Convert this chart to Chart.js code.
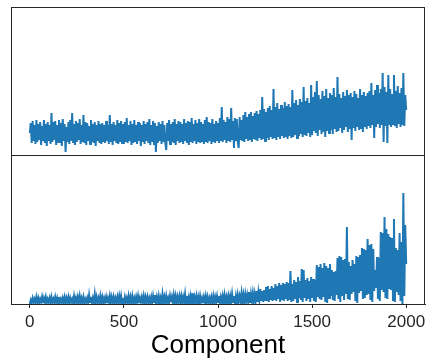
<!DOCTYPE html>
<html>
<head>
<meta charset="utf-8">
<script src="https://cdn.jsdelivr.net/npm/chart.js@4/dist/chart.umd.min.js"></script>
<style>
    body { margin: 0; background: #fff; }
    #wrap { position: relative; width: 433px; height: 364px; }
    #wrap canvas { position: absolute; left: 0; }
</style>
</head>
<body>
<div id="wrap">
    <canvas id="top-chart" width="433" height="160" style="top:0"></canvas>
    <canvas id="bottom-chart" width="433" height="209" style="top:155px"></canvas>
</div>
<script>
// values, one every 5 components
var step = 5;
var topValues = [
    22, 32, 12, 34, 14, 30, 11, 35, 13, 31, 15, 33, 10, 29, 14, 35, 12, 31, 9, 33,
    14, 30, 11, 42, 13, 33, 15, 34, 10, 30, 13, 35, 12, 32, 9, 36, 14, 31, 3, 28,
    13, 33, 11, 35, 14, 42, 12, 31, 10, 34, 13, 32, 15, 36, 11, 30, 13, 40, 12, 33,
    10, 32, 14, 29, 11, 35, 13, 31, 12, 33, 9, 30, 14, 34, 12, 31, 11, 32, 13, 30,
    12, 34, 14, 30, 11, 40, 13, 31, 10, 33, 14, 30, 12, 35, 11, 32, 13, 34, 12, 31,
    11, 33, 13, 37, 12, 30, 14, 34, 10, 31, 12, 35, 13, 30, 11, 33, 14, 32, 9, 30,
    13, 34, 11, 31, 14, 33, 12, 36, 10, 30, 13, 34, 11, 32, 3, 29, 12, 33, 14, 31,
    11, 34, 13, 30, 12, 5, 32, 14, 35, 11, 31, 13, 33, 12, 36, 10, 31, 14, 34, 12,
    33, 13, 31, 11, 36, 14, 32, 12, 34, 10, 33, 13, 37, 12, 31, 14, 35, 11, 32, 13,
    36, 12, 33, 14, 31, 11, 35, 13, 38, 12, 33, 14, 32, 11, 36, 13, 31, 12, 34, 14,
    32, 12, 37, 14, 48, 13, 35, 15, 33, 12, 38, 14, 36, 13, 47, 15, 34, 7, 37, 14,
    36, 13, 7, 38, 15, 35, 14, 40, 13, 43, 16, 38, 14, 41, 15, 43, 13, 39, 16, 42,
    15, 44, 14, 41, 17, 45, 15, 58, 16, 46, 14, 43, 17, 47, 15, 49, 18, 45, 16, 66,
    17, 48, 15, 52, 18, 46, 16, 50, 19, 47, 17, 53, 18, 49, 16, 51, 19, 48, 17, 65,
    18, 52, 20, 55, 17, 50, 19, 56, 21, 53, 18, 68, 20, 54, 19, 57, 22, 52, 18, 70,
    20, 58, 24, 63, 22, 74, 19, 60, 25, 56, 21, 64, 23, 59, 18, 66, 24, 57, 22, 62,
    25, 60, 21, 67, 26, 58, 23, 78, 24, 61, 27, 57, 22, 63, 25, 59, 28, 65, 23, 60,
    26, 62, 15, 58, 27, 64, 24, 61, 28, 57, 25, 66, 27, 60, 23, 63, 28, 59, 26, 62,
    29, 64, 27, 72, 30, 60, 17, 65, 28, 70, 31, 62, 27, 66, 30, 82, 13, 68, 29, 63,
    12, 80, 30, 66, 28, 61, 31, 80, 29, 64, 27, 69, 31, 62, 28, 67, 30, 82, 29, 60,
    45
];
var bottomValues = [
    0, 4, 1, 6, 2, 5, 1, 7, 2, 6, 1, 5, 2, 7, 1, 6, 2, 7, 1, 5,
    2, 6, 1, 7, 2, 5, 1, 7, 2, 6, 1, 7, 2, 5, 1, 6, 2, 7, 1, 6,
    2, 7, 1, 6, 2, 5, 1, 8, 2, 6, 1, 7, 2, 8, 1, 6, 2, 7, 1, 5,
    2, 6, 1, 9, 2, 7, 1, 6, 2, 10, 1, 7, 2, 6, 1, 8, 2, 7, 1, 6,
    2, 7, 1, 6, 2, 8, 1, 7, 2, 7, 1, 6, 2, 7, 1, 8, 2, 8, 1, 6,
    1, 7, 2, 6, 1, 8, 2, 7, 1, 8, 2, 6, 1, 7, 2, 8, 1, 6, 2, 7,
    2, 8, 1, 7, 2, 7, 1, 6, 2, 7, 1, 8, 2, 9, 1, 7, 2, 8, 1, 6,
    1, 10, 2, 7, 1, 8, 2, 6, 1, 8, 2, 7, 1, 9, 2, 8, 1, 7, 2, 8,
    2, 8, 1, 7, 2, 10, 1, 8, 2, 7, 1, 8, 2, 11, 1, 7, 2, 8, 1, 7,
    1, 8, 2, 6, 1, 7, 2, 8, 1, 7, 2, 6, 1, 7, 2, 8, 1, 7, 2, 8,
    2, 8, 1, 7, 2, 8, 1, 9, 2, 7, 1, 8, 2, 8, 1, 10, 2, 8, 1, 8,
    1, 9, 2, 8, 3, 11, 1, 9, 2, 10, 3, 9, 2, 12, 1, 10, 3, 11, 2, 10,
    3, 13, 2, 12, 4, 15, 3, 13, 2, 14, 4, 17, 3, 18, 2, 15, 4, 18, 3, 16,
    4, 20, 3, 18, 5, 21, 2, 19, 4, 21, 3, 20, 5, 22, 3, 21, 4, 33, 2, 20,
    3, 24, 5, 22, 2, 27, 6, 23, 4, 35, 2, 34, 6, 24, 3, 26, 5, 23, 2, 27,
    6, 25, 3, 24, 2, 39, 7, 37, 5, 40, 4, 36, 7, 41, 2, 38, 1, 36, 6, 40,
    8, 34, 4, 32, 3, 33, 9, 46, 5, 48, 2, 47, 8, 44, 4, 45, 10, 77, 5, 42,
    4, 38, 10, 44, 12, 40, 3, 48, 1, 47, 11, 49, 14, 56, 5, 55, 6, 54, 9, 65,
    10, 59, 4, 60, 2, 55, 13, 34, 16, 47, 5, 46, 3, 72, 14, 71, 12, 87, 6, 75,
    5, 70, 15, 67, 14, 66, 4, 85, 2, 56, 12, 54, 9, 71, 3, 62, 0, 111, 8, 79,
    40
];
var tickValues = [0, 500, 1000, 1500, 2000];
var xTitle = 'Component';

var blue = '#1f77b4';
var ink = '#262626';
var fontFamily = "'Liberation Sans', Arial, Helvetica, sans-serif";

function toPoints(values) {
    return values.map(function(v, i) { return { x: i * step, y: v }; });
}

// matplotlib-like box around the plot area
var boxPlugin = {
    id: 'box',
    afterDraw: function(chart) {
        var a = chart.chartArea;
        var ctx = chart.ctx;
        ctx.save();
        ctx.strokeStyle = ink;
        ctx.lineWidth = 1;
        ctx.strokeRect(a.left + 0.5, a.top + 0.5, a.right - a.left - 1, a.bottom - a.top);
        ctx.restore();
    }
};

function lineDataset(values) {
    return {
        data: toPoints(values),
        borderColor: blue,
        borderWidth: 2,
        pointRadius: 0,
        tension: 0,
        fill: false
    };
}

var topChart = new Chart(document.getElementById('top-chart'), {
    type: 'line',
    data: { datasets: [lineDataset(topValues)] },
    plugins: [boxPlugin],
    options: {
        responsive: false,
        devicePixelRatio: 1,
        animation: false,
        layout: { padding: { left: 11, right: 8, top: 7, bottom: 5 } },
        plugins: { legend: { display: false }, tooltip: { enabled: false } },
        scales: {
            x: { type: 'linear', min: -100, max: 2100, display: false },
            y: { min: 0, max: 148, display: false }
        }
    }
});

var bottomChart = new Chart(document.getElementById('bottom-chart'), {
    type: 'line',
    data: { datasets: [lineDataset(bottomValues)] },
    plugins: [boxPlugin],
    options: {
        responsive: false,
        devicePixelRatio: 1,
        animation: false,
        layout: { padding: { left: 11, right: 8, top: 0, bottom: 0 } },
        plugins: { legend: { display: false }, tooltip: { enabled: false } },
        scales: {
            x: {
                type: 'linear',
                min: -100,
                max: 2100,
                afterBuildTicks: function(scale) {
                    scale.ticks = tickValues.map(function(v) { return { value: v }; });
                },
                afterFit: function(scale) { scale.height = 60; },
                grid: { drawOnChartArea: false, drawTicks: true, tickLength: 4, color: ink, lineWidth: 1 },
                border: { display: true, color: ink, width: 1 },
                ticks: {
                    padding: 4,
                    maxRotation: 0,
                    color: ink,
                    font: { family: fontFamily, size: 17 },
                    callback: function(value) { return String(value); }
                },
                title: {
                    display: true,
                    text: xTitle,
                    color: '#000',
                    font: { family: fontFamily, size: 26 },
                    padding: { top: 0, bottom: 3 }
                }
            },
            y: { min: 0, max: 149, display: false }
        }
    }
});
</script>
</body>
</html>
